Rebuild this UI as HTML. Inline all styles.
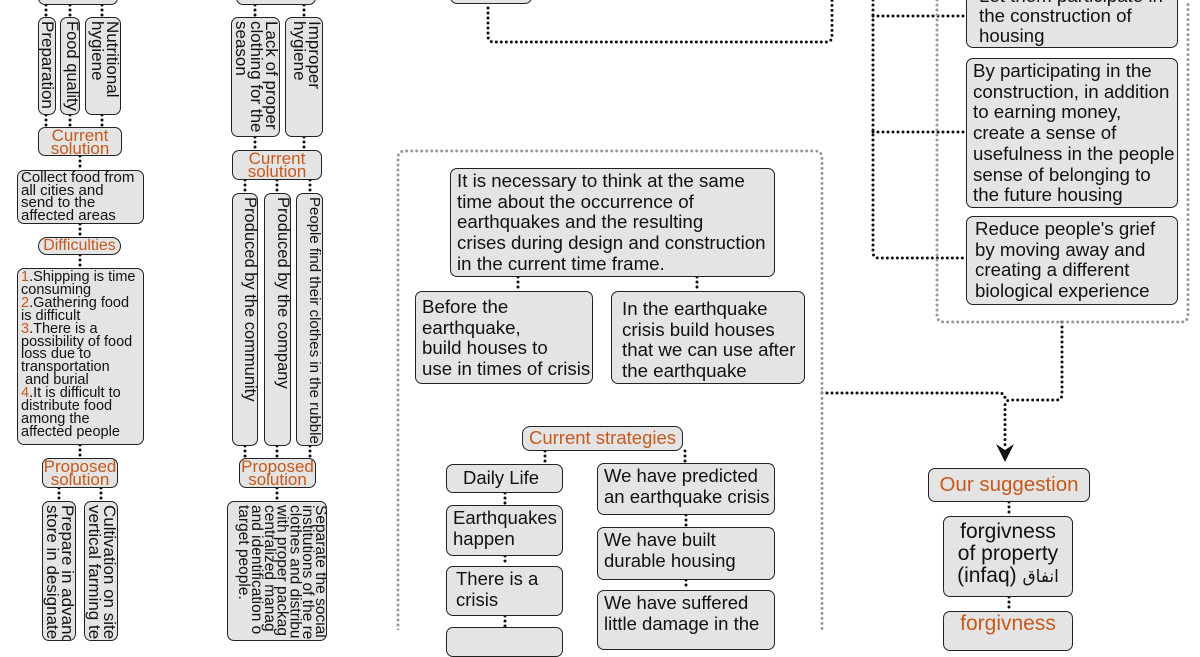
<!DOCTYPE html>
<html><head><meta charset="utf-8"><style>
body{margin:0;width:1200px;height:630px;overflow:hidden;background:#fff;position:relative;font-family:"Liberation Sans","Noto Sans CJK SC",sans-serif;color:#111}
.b{position:absolute;box-sizing:border-box;background:#e4e4e4;border:1.6px solid #222;border-radius:7px;overflow:hidden}
.o{color:#c65a1c;text-align:center}
.v{writing-mode:vertical-rl;padding:3px 0 0 0;font-size:17px;line-height:15px;white-space:nowrap}
.s{font-size:14.5px;line-height:12.7px;padding:1px 3px;white-space:nowrap}
.m{font-size:18.7px;line-height:20.7px;padding:2px 6px}
.cs{font-size:17px;line-height:13px;padding-top:1px}
svg{position:absolute;left:0;top:0}
</style></head><body>
<svg width="1200" height="630">
<g fill="none" stroke="#111" stroke-width="3" stroke-linecap="round" stroke-dasharray="0 5">
<path d="M46 5V17M70 5V17M102 5V17M46 115V127M70 115V127M102 115V127M80 156V170M80 224V237M80 255V268M80 445V458M59 488V501M101 488V501"/>
<path d="M255 5V17M304 5V17M255 137V150M304 137V150M245 180V193M277 180V193M310 180V193M245 446V458M277 446V458M310 446V458M277 488V501"/>
<path d="M488 8V36Q488 42 494 42H826Q832 42 832 36V0"/>
<path d="M873 0V252Q873 258 879 258H966M873 16H966M873 132H966"/>
<path d="M1062 322V394Q1062 400 1056 400H1011Q1005 400 1005 406V448"/>
<path d="M822 393H999Q1005 393 1005 399"/>
<path d="M518 277V291M697 277V291M545 451V464M685 451V463M505 493V505M505 556V566M505 616V627M686 515V527M686 580V590M1009 502V516M1009 597V611"/>
</g>
<g fill="none" stroke="#999" stroke-width="3" stroke-linecap="round" stroke-dasharray="0 5">
<path d="M398 630V158Q398 151 405 151H815Q822 151 822 158V630"/>
<path d="M937 0V315Q937 322 944 322H1181Q1188 322 1188 315V0"/>
</g>
<path d="M996 444L1005 462L1014 444L1005 450Z" fill="#111"/>
</svg>

<div class="b o s" style="left:38px;top:-12px;width:80px;height:17px">Difficulties</div>
<div class="b v" style="left:38px;top:17px;width:18px;height:98px">Preparation</div>
<div class="b v" style="left:60px;top:17px;width:20px;height:98px;font-size:16.5px">Food quality</div>
<div class="b v" style="left:85px;top:17px;width:36px;height:98px">Nutritional<br>hygiene</div>
<div class="b o cs" style="left:38px;top:127px;width:84px;height:29px">Current<br>solution</div>
<div class="b s" style="left:17px;top:170px;width:127px;height:54px;font-size:15px">Collect food from<br>all cities and<br>send to the<br>affected areas</div>
<div class="b o" style="left:38px;top:237px;width:83px;height:18px;font-size:16px;line-height:15px;border-radius:9px">Difficulties</div>
<div class="b s" style="left:17px;top:268px;width:127px;height:177px;padding-top:2px;line-height:12.9px"><span class="o">1</span>.Shipping is time<br>consuming<br><span class="o">2</span>.Gathering food<br>is difficult<br><span class="o">3</span>.There is a<br>possibility of food<br>loss due to<br>transportation<br>&nbsp;and burial<br><span class="o">4</span>.It is difficult to<br>distribute food<br>among the<br>affected people</div>
<div class="b o cs" style="left:42px;top:458px;width:76px;height:30px">Proposed<br>solution</div>
<div class="b v" style="left:42px;top:501px;width:34px;height:140px">Prepare in advance<br>store in designated</div>
<div class="b v" style="left:84px;top:501px;width:34px;height:140px">Cultivation on site using<br>vertical farming tech</div>

<div class="b o s" style="left:236px;top:-12px;width:80px;height:17px">Difficulties</div>
<div class="b v" style="left:231px;top:17px;width:49px;height:120px">Lack of proper<br>clothing for the<br>season</div>
<div class="b v" style="left:285px;top:17px;width:38px;height:120px">Improper<br>hygiene</div>
<div class="b o cs" style="left:232px;top:150px;width:90px;height:30px">Current<br>solution</div>
<div class="b v" style="left:232px;top:193px;width:26px;height:253px;padding-left:2px;font-size:16.5px">Produced by the community</div>
<div class="b v" style="left:264px;top:193px;width:27px;height:253px;padding-left:3px;font-size:16.5px">Produced by the company</div>
<div class="b v" style="left:296px;top:193px;width:27px;height:253px;padding-left:4px;font-size:15px">People find their clothes in the rubble</div>
<div class="b o cs" style="left:239px;top:458px;width:77px;height:30px">Proposed<br>solution</div>
<div class="b v" style="left:227px;top:501px;width:100px;height:140px;font-size:15.5px;line-height:12.8px">Separate the social<br>institutions of the re<br>clothes and distribu<br>with proper packag<br>centralized manag<br>and identification o<br>target people.</div>

<div class="b o m" style="left:450px;top:-16px;width:82px;height:20px"></div>

<div class="b m" style="left:450px;top:168px;width:325px;height:109px;white-space:nowrap">It is necessary to think at the same<br>time about the occurrence of<br>earthquakes and the resulting<br>crises during design and construction<br>in the current time frame.</div>
<div class="b m" style="left:415px;top:291px;width:178px;height:93px;padding-top:5px;white-space:nowrap">Before the<br>earthquake,<br>build houses to<br>use in times of crisis</div>
<div class="b m" style="left:611px;top:291px;width:194px;height:93px;padding:7px 10px;white-space:nowrap">In the earthquake<br>crisis build houses<br>that we can use after<br>the earthquake</div>
<div class="b o m" style="left:522px;top:426px;width:161px;height:25px;padding:0 2px;line-height:22px;border-radius:8px;font-size:18.5px">Current strategies</div>
<div class="b m" style="left:446px;top:464px;width:117px;height:29px;padding:3px 16px;font-size:18.5px">Daily Life</div>
<div class="b m" style="left:446px;top:505px;width:117px;height:51px;font-size:18.5px">Earthquakes happen</div>
<div class="b m" style="left:446px;top:566px;width:117px;height:50px;padding:2px 9px;font-size:18.5px">There is a<br>crisis</div>
<div class="b m" style="left:446px;top:627px;width:117px;height:30px"></div>
<div class="b m" style="left:597px;top:463px;width:178px;height:52px;font-size:18.5px;white-space:nowrap">We have predicted<br>an earthquake crisis</div>
<div class="b m" style="left:597px;top:527px;width:178px;height:53px;font-size:18.5px">We have built<br>durable housing</div>
<div class="b m" style="left:597px;top:590px;width:178px;height:60px;font-size:18.5px;white-space:nowrap">We have suffered<br>little damage in the</div>

<div class="b m" style="left:966px;top:-15px;width:212px;height:63px;padding:0 12px;line-height:20px;white-space:nowrap">Let them participate in<br>the construction of<br>housing</div>
<div class="b m" style="left:966px;top:58px;width:212px;height:150px;padding:2px 6px;white-space:nowrap">By participating in the<br>construction, in addition<br>to earning money,<br>create a sense of<br>usefulness in the people<br>sense of belonging to<br>the future housing</div>
<div class="b m" style="left:966px;top:216px;width:212px;height:89px;padding:2px 8px;white-space:nowrap">Reduce people's grief<br>by moving away and<br>creating a different<br>biological experience</div>

<div class="b o" style="left:928px;top:468px;width:162px;height:34px;font-size:20.5px;line-height:31px">Our suggestion</div>
<div class="b" style="left:943px;top:516px;width:130px;height:81px;font-size:21px;line-height:22px;text-align:center;padding-top:4px">forgivness<br>of property<br>(infaq) <span style="font-family:'DejaVu Sans',sans-serif;font-size:17px">انفاق</span></div>
<div class="b o" style="left:943px;top:611px;width:130px;height:40px;font-size:21px;line-height:23px">forgivness</div>
</body></html>
